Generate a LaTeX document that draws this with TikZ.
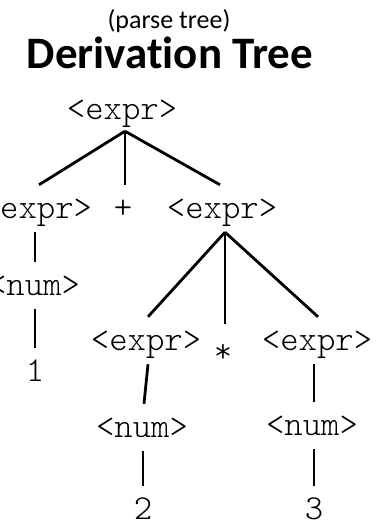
\documentclass[tikz,border=0pt]{standalone}
\usepackage{fontspec}
\setmainfont{Carlito}
\newfontfamily\codefont[Extension=.otf]{lmmonolt10-regular}
\newfontfamily\titlefont[Ligatures=NoCommon]{Carlito}
\begin{document}
\begin{tikzpicture}[x=1pt,y=-1pt,
  tn/.style={font=\codefont\fontsize{35}{35}\selectfont, anchor=base, inner xsep=0pt, inner ysep=4pt, text height=29pt, text depth=10pt},
  rootn/.style={tn, text depth=7pt},
  leaf/.style={tn, text depth=0pt},
  edge/.style={line width=2.8pt}]
\clip (0,0) rectangle (389,524);
\useasboundingbox (0,0) rectangle (389,524);
\node[anchor=base, inner sep=0pt, font=\fontsize{26}{26}\selectfont] (sub) at (169,29) {(parse tree)};
\node[anchor=base, inner sep=0pt, font=\titlefont\bfseries\fontsize{45}{45}\selectfont] (title) at (170,69) {Derivation Tree};
\node[rootn] (root) at (122,120) {<expr>};
\node[tn] (lexpr) at (37,218) {<expr>};
\node[tn] (plus) at (123,218) {+};
\node[tn] (rexpr) at (222,218) {<expr>};
\node[tn] (lnum) at (34,295) {<num>};
\node[leaf] (one) at (35,381) {1};
\node[tn] (mexpr) at (146,350) {<expr>};
\node[tn] (star) at (223,362) {*};
\node[tn] (rrexpr) at (317,350) {<expr>};
\node[tn] (mnum) at (142,437) {<num>};
\node[tn] (rnum) at (312,435) {<num>};
\node[leaf] (two) at (143,519) {2};
\node[leaf] (three) at (314,519) {3};
\draw[edge] ([xshift=3pt]root.south) -- ([xshift=2pt]lexpr.north);
\draw[edge] ([xshift=3pt]root.south) -- ([xshift=2pt]plus.north);
\draw[edge] ([xshift=3pt]root.south) -- ([xshift=-2pt]rexpr.north);
\draw[edge] ([xshift=-2pt]lexpr.south) -- ([xshift=1pt]lnum.north);
\draw[edge] ([xshift=1pt]lnum.south) -- (one.north);
\draw[edge] ([xshift=3pt]rexpr.south) -- ([xshift=2pt]mexpr.north);
\draw[edge] ([xshift=3pt]rexpr.south) -- ([xshift=2pt,yshift=5pt]star.north);
\draw[edge] ([xshift=3pt]rexpr.south) -- ([xshift=1pt]rrexpr.north);
\draw[edge] ([xshift=2pt]mexpr.south) -- ([xshift=2pt]mnum.north);
\draw[edge] ([xshift=1pt]mnum.south) -- (two.north);
\draw[edge] ([xshift=-3pt]rrexpr.south) -- ([xshift=2pt]rnum.north);
\draw[edge] ([xshift=2pt]rnum.south) -- (three.north);
\end{tikzpicture}
\end{document}
